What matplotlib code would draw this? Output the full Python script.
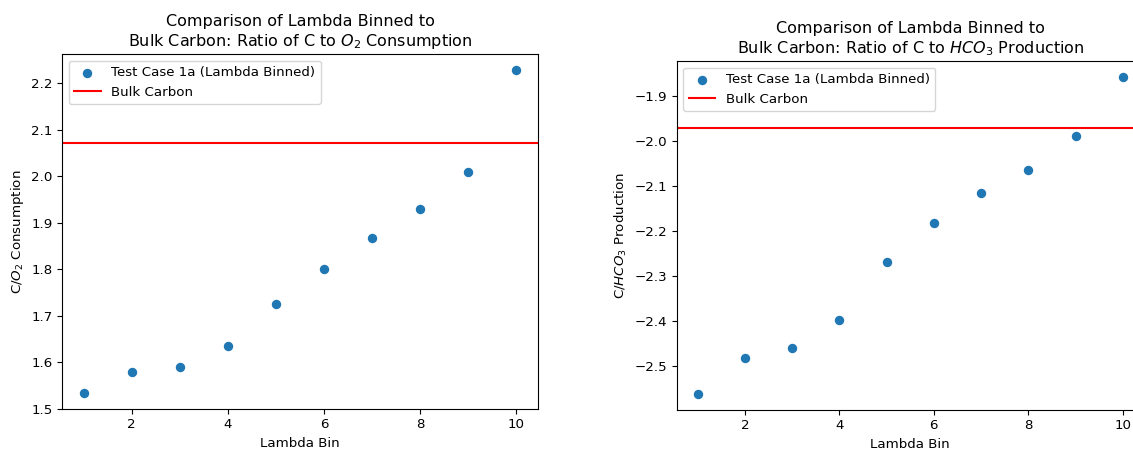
import matplotlib
matplotlib.use("Agg")
import matplotlib.pyplot as plt

bins = [1, 2, 3, 4, 5, 6, 7, 8, 9, 10]
o2_ratio = [1.534, 1.579, 1.590, 1.635, 1.725, 1.800, 1.866, 1.930, 2.009, 2.228]
o2_bulk = 2.072
hco3_ratio = [-2.563, -2.483, -2.460, -2.397, -2.270, -2.182, -2.116, -2.065, -1.989, -1.857]
hco3_bulk = -1.971

sc = 0.96
plt.rcParams.update({
    "font.size": 10 * sc,
    "xtick.major.size": 3.5 * sc,
    "ytick.major.size": 3.5 * sc,
    "xtick.major.pad": 3.5 * sc,
    "ytick.major.pad": 3.5 * sc,
    "axes.labelpad": 4.0 * sc,
    "axes.titlepad": 6.0 * sc,
})

fig = plt.figure(figsize=(11.33, 4.49), dpi=100)
ax1 = fig.add_axes([62/1133, 1-409/449, 476/1133, 355/449])
ax2 = fig.add_axes([676.5/1133, 1-410/449, 467.5/1133, 349/449])

ax1.scatter(bins, o2_ratio, s=36 * sc * sc, label="Test Case 1a (Lambda Binned)")
ax1.axhline(o2_bulk, color="red", label="Bulk Carbon")
ax1.set_title("Comparison of Lambda Binned to\nBulk Carbon: Ratio of C to $O_2$ Consumption", fontsize=12 * sc)
ax1.set_xlabel("Lambda Bin")
ax1.set_ylabel("C/$O_2$ Consumption")
ax1.legend(loc="upper left")

ax2.scatter(bins, hco3_ratio, s=36 * sc * sc, label="Test Case 1a (Lambda Binned)")
ax2.axhline(hco3_bulk, color="red", label="Bulk Carbon")
ax2.set_title("Comparison of Lambda Binned to\nBulk Carbon: Ratio of C to $HCO_3$ Production", fontsize=12 * sc)
ax2.set_xlabel("Lambda Bin")
ax2.set_ylabel("C/$HCO_3$ Production")
ax2.legend(loc="upper left")

fig.savefig("out.png", dpi=100)
